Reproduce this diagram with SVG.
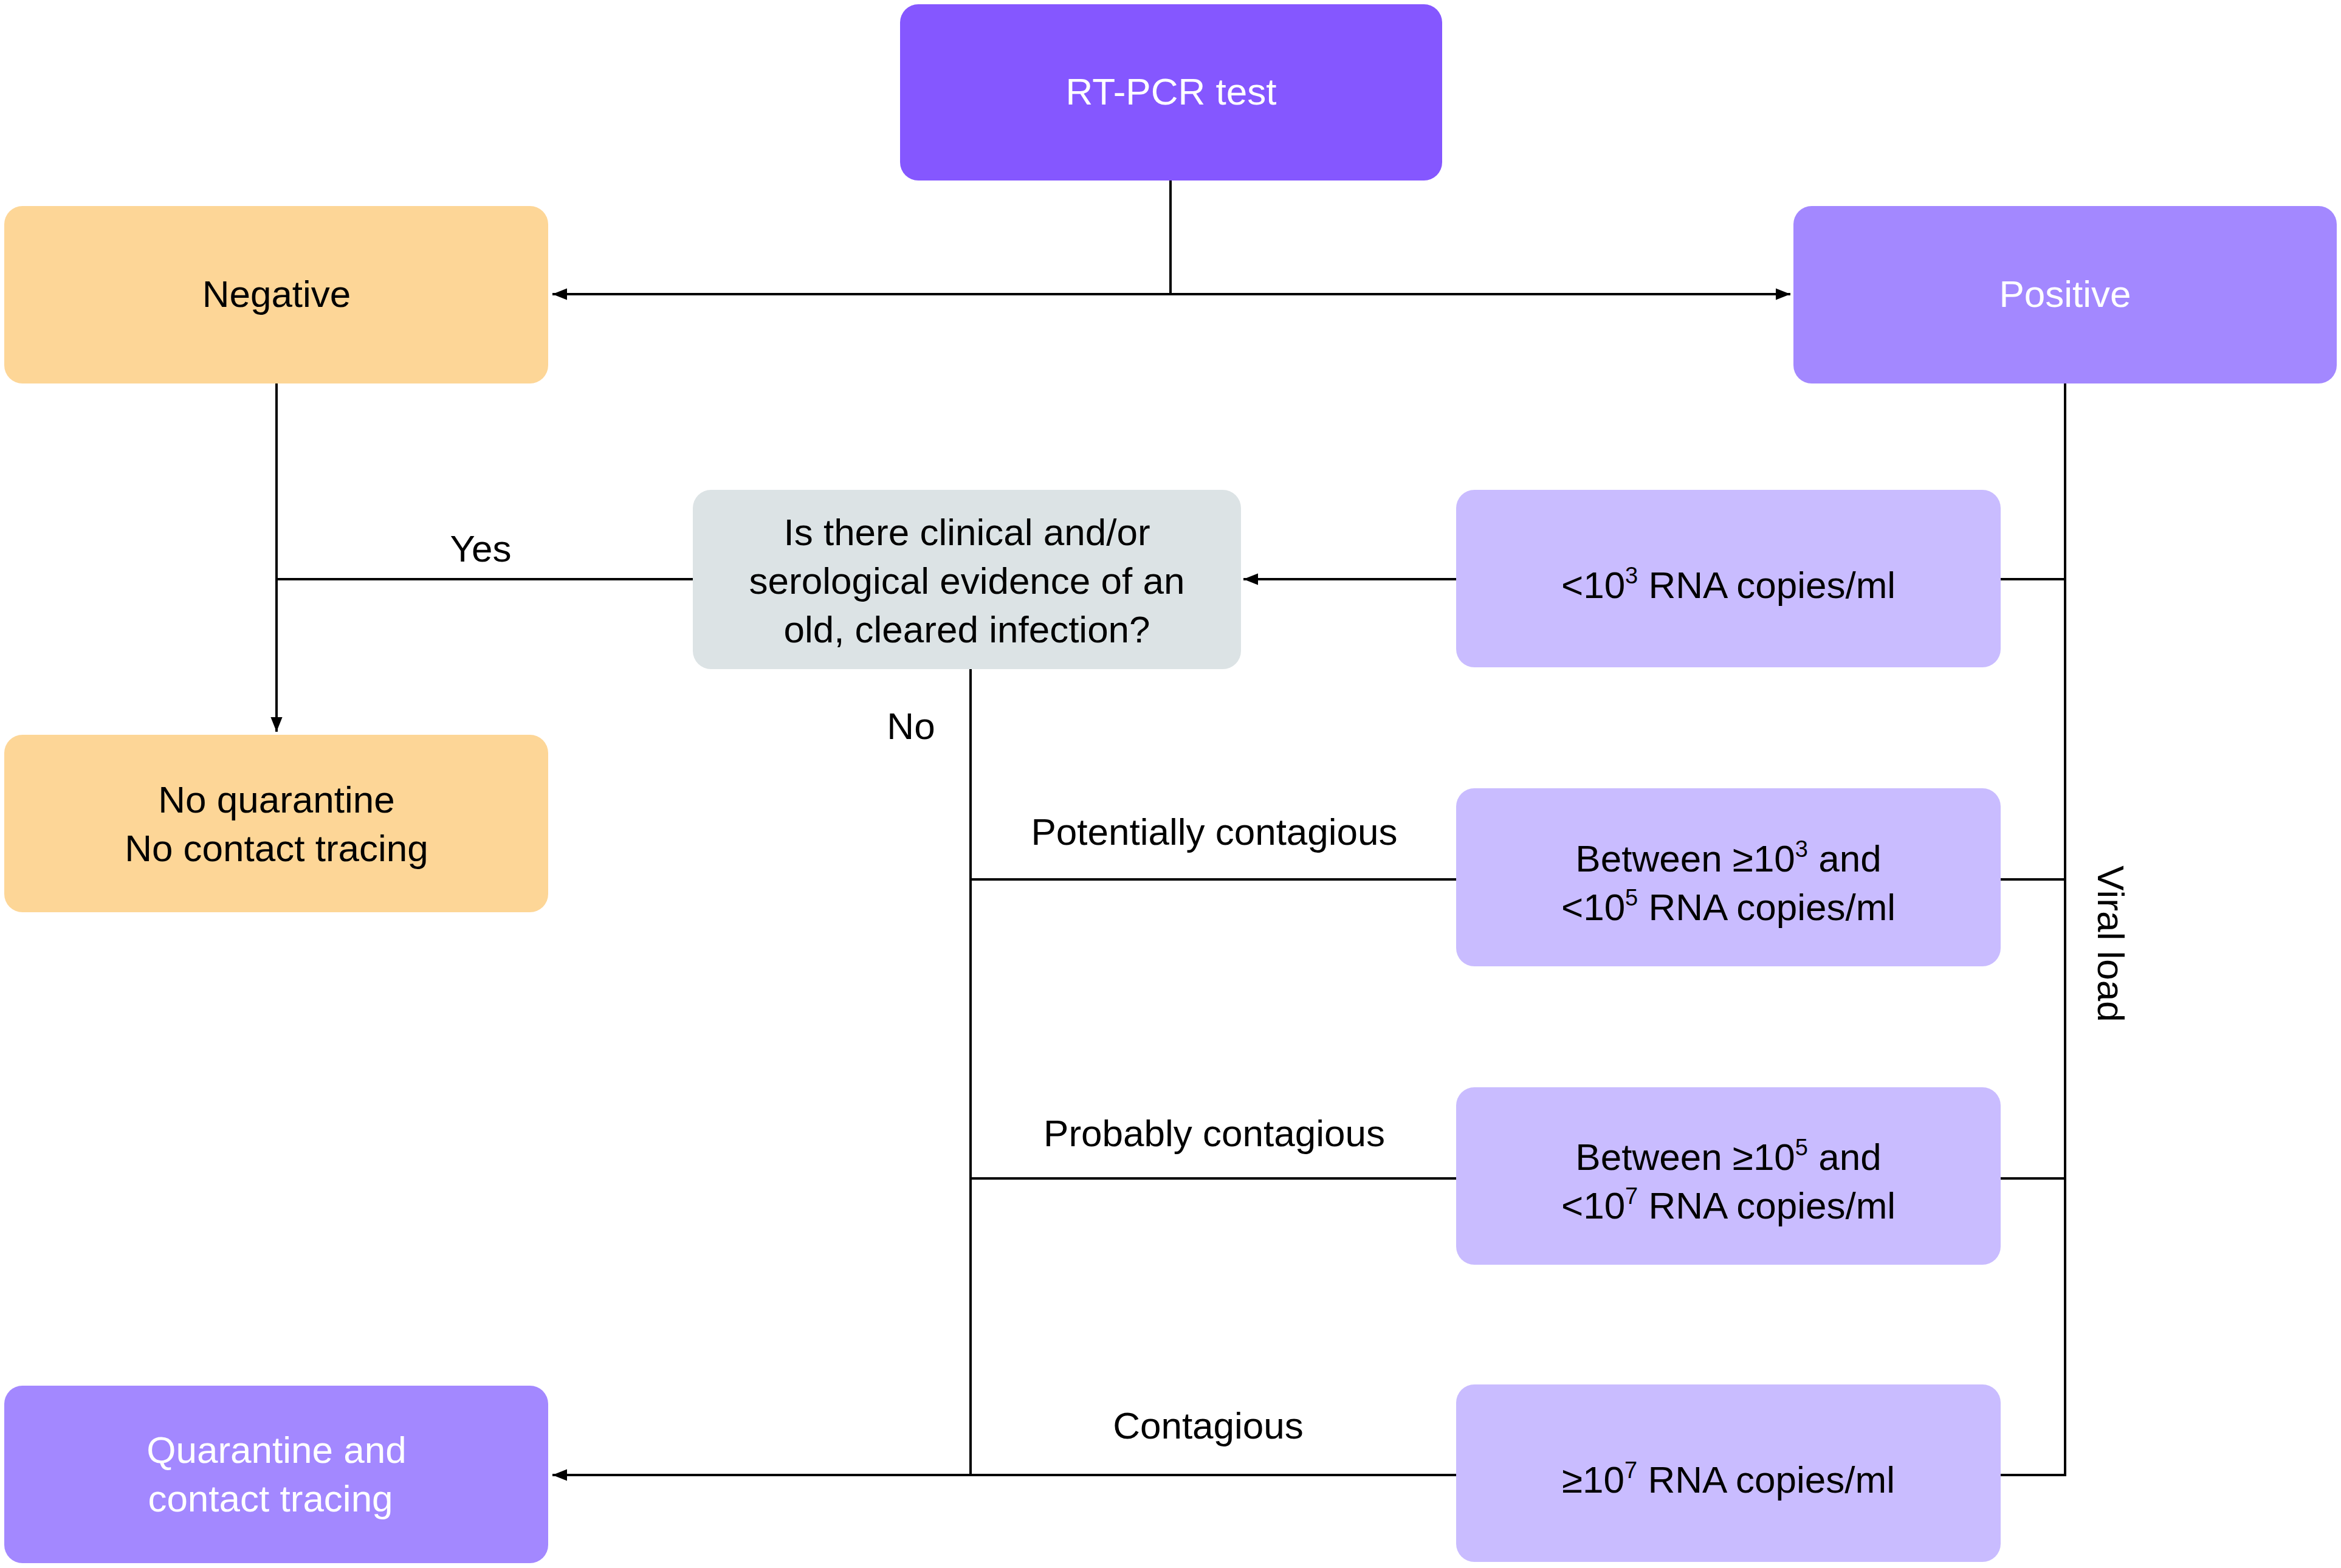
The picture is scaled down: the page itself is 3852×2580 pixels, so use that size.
<svg xmlns="http://www.w3.org/2000/svg" width="3852" height="2580" viewBox="0 0 3852 2580">
<style>
text{font-family:"Liberation Sans",Arial,sans-serif;font-size:62px;text-anchor:middle;fill:#000}
.w{fill:#fff}
.c{stroke:#000;stroke-width:4;fill:none}
</style>
<defs><marker id="a" viewBox="0 0 10 10" refX="10" refY="5" markerWidth="8" markerHeight="6" markerUnits="strokeWidth" orient="auto"><path d="M0,1 L10,5 L0,9 z" fill="#000"/></marker></defs>
<rect width="3852" height="2580" fill="#fff"/>
<g id="connectors">
<path class="c" d="M1926,297 V484"/>
<path class="c" d="M1926,484 H909" marker-end="url(#a)"/>
<path class="c" d="M1926,484 H2946" marker-end="url(#a)"/>
<path class="c" d="M455,631 V1204" marker-end="url(#a)"/>
<path class="c" d="M455,953 H1140"/>
<path class="c" d="M2396,953 H2046" marker-end="url(#a)"/>
<path class="c" d="M3398,631 V2427 H3292 M3292,953 H3398 M3292,1447 H3398 M3292,1939 H3398"/>
<path class="c" d="M1597,1101 V2427"/>
<path class="c" d="M1597,1447 H2396 M1597,1939 H2396"/>
<path class="c" d="M2396,2427 H909" marker-end="url(#a)"/>
<text x="791" y="924">Yes</text>
<text x="1499" y="1216">No</text>
<text x="1998" y="1390">Potentially contagious</text>
<text x="1998" y="1886">Probably contagious</text>
<text x="1988" y="2367">Contagious</text>
<text transform="translate(3452,1553) rotate(90)" x="0" y="0">Viral load</text>
</g>
<g id="rtpcr"><rect x="1481" y="7" width="892" height="290" rx="30" fill="#8557FF"/><text class="w" x="1927" y="172">RT-PCR test</text></g>
<g id="negative"><rect x="7" y="339" width="895" height="292" rx="30" fill="#FDD697"/><text x="455" y="505">Negative</text></g>
<g id="positive"><rect x="2951" y="339" width="894" height="292" rx="30" fill="#A388FF"/><text class="w" x="3398" y="505">Positive</text></g>
<g id="question"><rect x="1140" y="806" width="902" height="295" rx="30" fill="#DCE3E5"/><text x="1591" y="897">Is there clinical and/or</text><text x="1591" y="977">serological evidence of an</text><text x="1591" y="1057">old, cleared infection?</text></g>
<g id="lt3"><rect x="2396" y="806" width="896" height="292" rx="30" fill="#C9BCFF"/><text x="2844" y="984">&lt;10<tspan font-size="38" dy="-24">3</tspan><tspan dy="24"> RNA copies/ml</tspan></text></g>
<g id="noq"><rect x="7" y="1209" width="895" height="292" rx="30" fill="#FDD697"/><text x="455" y="1337">No quarantine</text><text x="455" y="1417">No contact tracing</text></g>
<g id="b35"><rect x="2396" y="1297" width="896" height="293" rx="30" fill="#C9BCFF"/><text x="2844" y="1434">Between ≥10<tspan font-size="38" dy="-24">3</tspan><tspan dy="24"> and</tspan></text><text x="2844" y="1514">&lt;10<tspan font-size="38" dy="-24">5</tspan><tspan dy="24"> RNA copies/ml</tspan></text></g>
<g id="b57"><rect x="2396" y="1789" width="896" height="292" rx="30" fill="#C9BCFF"/><text x="2844" y="1925">Between ≥10<tspan font-size="38" dy="-24">5</tspan><tspan dy="24"> and</tspan></text><text x="2844" y="2005">&lt;10<tspan font-size="38" dy="-24">7</tspan><tspan dy="24"> RNA copies/ml</tspan></text></g>
<g id="ge7"><rect x="2396" y="2278" width="896" height="292" rx="30" fill="#C9BCFF"/><text x="2844" y="2456">≥10<tspan font-size="38" dy="-24">7</tspan><tspan dy="24"> RNA copies/ml</tspan></text></g>
<g id="quar"><rect x="7" y="2280" width="895" height="292" rx="30" fill="#A388FF"/><text class="w" x="455" y="2407">Quarantine and</text><text class="w" x="445" y="2487">contact tracing</text></g>
</svg>
